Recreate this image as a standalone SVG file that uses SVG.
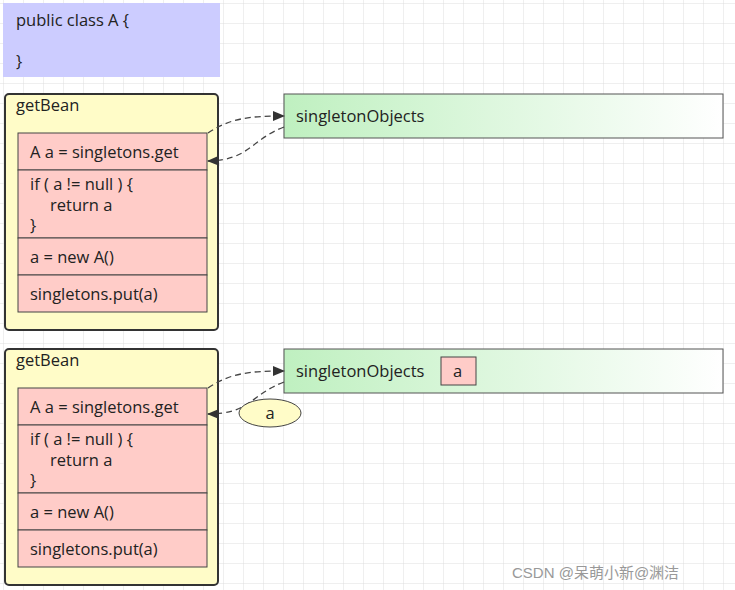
<svg xmlns="http://www.w3.org/2000/svg" width="735" height="590" viewBox="0 0 735 590">
<defs>
<pattern id="grid" width="20" height="20" patternUnits="userSpaceOnUse" x="4" y="4">
<path d="M20 0V20M0 20H20" fill="none" stroke="#dedede" stroke-width="1"/>
</pattern>
<linearGradient id="gr" x1="0" x2="1" y1="0" y2="0">
<stop offset="0" stop-color="#bff0c0"/><stop offset="1" stop-color="#ffffff"/>
</linearGradient>
<marker id="ar" viewBox="0 0 12 10" refX="11" refY="5" markerWidth="13" markerHeight="10" orient="auto" markerUnits="userSpaceOnUse">
<path d="M0 0L12 5L0 10Z" fill="#333"/>
</marker>
<style>
text{font-family:"Open Sans","Noto Sans",sans-serif;font-size:16.5px;fill:#222}
.outer{fill:#fffcc8;stroke:#333;stroke-width:2}
.row{fill:#ffccc8;stroke:#444;stroke-width:1}
.so{fill:url(#gr);stroke:#555;stroke-width:1}
.c{fill:none;stroke:#444;stroke-width:1.3;stroke-dasharray:6 4}
</style>
</defs>
<rect width="735" height="590" fill="#fff"/>
<rect width="735" height="590" fill="url(#grid)"/>
<g id="classA">
<rect x="3" y="3" width="217" height="74" fill="#ccccff"/>
<text x="16" y="26">public class A {</text>
<text x="16" y="67">}</text>
</g>
<g id="getBean1">
<rect class="outer" x="5" y="94" width="213" height="236" rx="4"/>
<text x="16" y="111">getBean</text>
<rect class="row" x="18" y="133" width="189" height="37"/>
<rect class="row" x="18" y="170" width="189" height="68"/>
<rect class="row" x="18" y="238" width="189" height="37"/>
<rect class="row" x="18" y="275" width="189" height="37"/>
<text x="30" y="158">A a = singletons.get</text>
<text x="30" y="190">if ( a != null ) {</text>
<text x="50" y="211">return a</text>
<text x="30" y="231">}</text>
<text x="30" y="263">a = new A()</text>
<text x="30" y="300">singletons.put(a)</text>
</g>
<g id="getBean2">
<rect class="outer" x="5" y="349" width="213" height="236" rx="4"/>
<text x="16" y="366">getBean</text>
<rect class="row" x="18" y="388" width="189" height="37"/>
<rect class="row" x="18" y="425" width="189" height="68"/>
<rect class="row" x="18" y="493" width="189" height="37"/>
<rect class="row" x="18" y="530" width="189" height="37"/>
<text x="30" y="413">A a = singletons.get</text>
<text x="30" y="445">if ( a != null ) {</text>
<text x="50" y="466">return a</text>
<text x="30" y="486">}</text>
<text x="30" y="518">a = new A()</text>
<text x="30" y="555">singletons.put(a)</text>
</g>
<g id="so1">
<rect class="so" x="284" y="94" width="439" height="44"/>
<text x="296" y="122">singletonObjects</text>
</g>
<g id="so2">
<rect class="so" x="284" y="349" width="439" height="44"/>
<text x="296" y="377">singletonObjects</text>
<rect class="row" x="441" y="357" width="35" height="28"/>
<text x="453" y="377">a</text>
</g>
<g id="connectors">
<path class="c" d="M208 133C230 118 250 116 284 116" marker-end="url(#ar)"/>
<path class="c" d="M284 127C250 140 250 160 208 161" marker-end="url(#ar)"/>
<path class="c" d="M208 388C230 373 250 371 284 371" marker-end="url(#ar)"/>
<path class="c" d="M284 382C250 395 250 414 208 414" marker-end="url(#ar)"/>
</g>
<g id="labelA">
<ellipse cx="270" cy="413" rx="31" ry="14" fill="#fffcc8" stroke="#444"/>
<text x="270" y="419" text-anchor="middle">a</text>
</g>
<text x="512" y="578" style="font-family:'Liberation Sans','Noto Sans CJK SC',sans-serif;font-size:15px;fill:#999">CSDN @呆萌小新@渊洁</text>
</svg>
